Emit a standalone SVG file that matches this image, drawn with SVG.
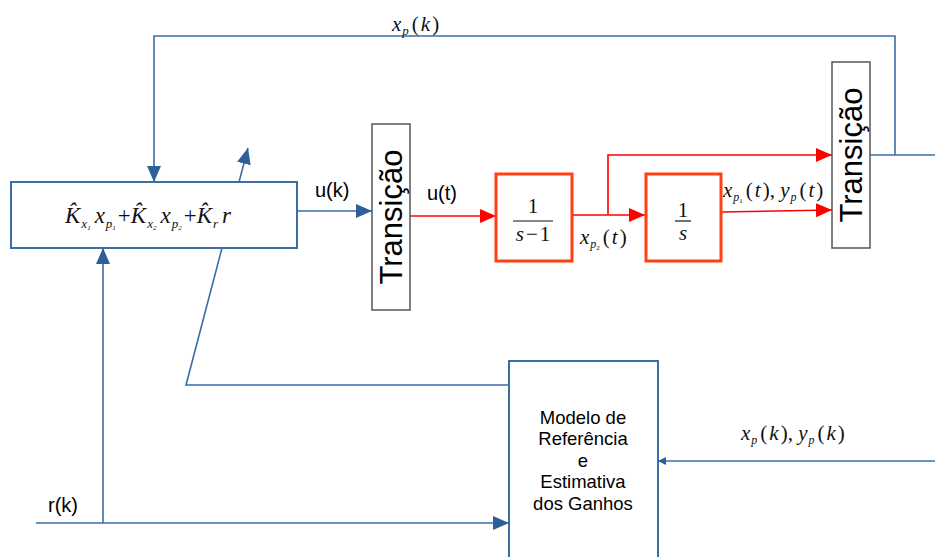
<svg xmlns="http://www.w3.org/2000/svg" width="935" height="557" viewBox="0 0 935 557">
<style>
.b{fill:none;stroke:#3a6ea5;stroke-width:1.6}
.r{fill:none;stroke:#ff0000;stroke-width:1.6}
.blk{fill:#fff;stroke:#ff4010;stroke-width:3}
.tr{fill:#fff;stroke:#555;stroke-width:1.5}
.bx{fill:#fff;stroke:#3a6ea5;stroke-width:2}
.s{font-family:"Liberation Sans",Arial,sans-serif;fill:#000}
.m{font-family:"Liberation Serif","DejaVu Serif",serif;font-style:italic;fill:#111}
.n{font-family:"Liberation Serif","DejaVu Serif",serif;fill:#111}
.p{font-style:normal}
</style>
<defs>
<marker id="ar" viewBox="0 0 16 14" refX="16" refY="7" markerWidth="16" markerHeight="14" markerUnits="userSpaceOnUse" orient="auto"><path d="M0,0L16,7L0,14Z" fill="#ff0000"/></marker>
<marker id="as" viewBox="0 0 8 8" refX="8" refY="4" markerWidth="8" markerHeight="8" markerUnits="userSpaceOnUse" orient="auto"><path d="M0,0L8,4L0,8Z" fill="#2e5f99"/></marker>
<marker id="ab2" viewBox="0 0 16 14" refX="16" refY="7" markerWidth="16" markerHeight="14" markerUnits="userSpaceOnUse" orient="auto"><path d="M0,0L16,7L0,14Z" fill="#2e5f99"/></marker>
</defs>
<g id="connectors">
<polyline class="b" points="870,155 935,155"/>
<polyline class="b" points="895,155 895,36 154,36 154,182" marker-end="url(#ab2)"/>
<line class="b" x1="239" y1="182" x2="248" y2="148" marker-end="url(#ab2)"/>
<polyline class="b" points="222,248 186,385 509,385"/>
<line class="b" x1="935" y1="461" x2="658" y2="461" marker-end="url(#as)"/>
<line class="b" x1="36" y1="523" x2="509" y2="523" marker-end="url(#ab2)"/>
<line class="b" x1="103" y1="523" x2="103" y2="248" marker-end="url(#ab2)"/>
<line class="b" x1="297" y1="211" x2="372" y2="211" marker-end="url(#ab2)"/>
<line class="r" x1="410" y1="216" x2="496" y2="216" marker-end="url(#ar)"/>
<line class="r" x1="572" y1="215" x2="645" y2="215" marker-end="url(#ar)"/>
<polyline class="r" points="608,215 608,155 832,155" marker-end="url(#ar)"/>
<line class="r" x1="721" y1="212" x2="832" y2="210" marker-end="url(#ar)"/>
</g>
<g id="lbl-xpk">
<text class="m" x="392" y="31" font-size="21">x<tspan font-size="13" dy="4" dx="1">p</tspan><tspan class="p" dy="-4" dx="3">(</tspan><tspan dx="2">k</tspan><tspan class="p" dx="2">)</tspan></text>
</g>
<g id="controller">
<rect class="bx" x="11" y="182" width="286" height="66"/>
<text class="m" x="65" y="223" font-size="23">K̂<tspan font-size="13" dy="5" dx="1">x</tspan><tspan font-size="7" dy="2">1</tspan><tspan dy="-7" dx="4">x</tspan><tspan font-size="13" dy="5" dx="1">p</tspan><tspan font-size="7" dy="2">1</tspan><tspan class="p" dy="-7" dx="2">+</tspan>K̂<tspan font-size="13" dy="5" dx="1">x</tspan><tspan font-size="7" dy="2">2</tspan><tspan dy="-7" dx="4">x</tspan><tspan font-size="13" dy="5" dx="1">p</tspan><tspan font-size="7" dy="2">2</tspan><tspan class="p" dy="-7" dx="2">+</tspan>K̂<tspan font-size="13" dy="5" dx="1">r</tspan><tspan dy="-5" dx="4">r</tspan></text>
</g>
<text class="s" x="315" y="197" font-size="20">u(k)</text>
<g id="transicao1">
<rect class="tr" x="372" y="124" width="38" height="186"/>
<text class="s" font-size="31" text-anchor="middle" transform="translate(402,217) rotate(-90)">Transição</text>
</g>
<text class="s" x="427" y="200" font-size="20">u(t)</text>
<g id="block1">
<rect class="blk" x="496" y="174" width="76" height="87"/>
<text class="n" x="533" y="213" font-size="21" text-anchor="middle">1</text>
<line x1="513" y1="221" x2="553" y2="221" stroke="#111" stroke-width="1.2"/>
<text class="m" x="533" y="241" font-size="21" text-anchor="middle">s<tspan class="p" dx="2">−</tspan><tspan class="p" dx="2">1</tspan></text>
</g>
<text class="m" x="580" y="244" font-size="21">x<tspan font-size="12" dy="4" dx="1">p</tspan><tspan font-size="7" dy="2" class="p">2</tspan><tspan class="p" dy="-6" dx="3">(</tspan><tspan dx="2">t</tspan><tspan class="p" dx="2">)</tspan></text>
<g id="block2">
<rect class="blk" x="646" y="174" width="75" height="87"/>
<text class="n" x="683" y="217" font-size="21" text-anchor="middle">1</text>
<line x1="675" y1="221" x2="691" y2="221" stroke="#111" stroke-width="1.2"/>
<text class="m" x="683" y="240" font-size="21" text-anchor="middle">s</text>
</g>
<text class="m" x="723" y="197" font-size="21">x<tspan font-size="12" dy="4" dx="1">p</tspan><tspan font-size="7" dy="2" class="p">1</tspan><tspan class="p" dy="-6" dx="3">(</tspan><tspan dx="2">t</tspan><tspan class="p" dx="2">), </tspan>y<tspan font-size="12" dy="4" dx="1">p</tspan><tspan class="p" dy="-4" dx="3">(</tspan><tspan dx="2">t</tspan><tspan class="p" dx="2">)</tspan></text>
<g id="transicao2">
<rect class="tr" x="832" y="62" width="38" height="186"/>
<text class="s" font-size="31" text-anchor="middle" transform="translate(862,155) rotate(-90)">Transição</text>
</g>
<g id="modelo">
<rect class="bx" x="509" y="361" width="149" height="210"/>
<text class="s" font-size="18.5" text-anchor="middle"><tspan x="583" y="424">Modelo de</tspan><tspan x="583" y="445">Referência</tspan><tspan x="583" y="467">e</tspan><tspan x="583" y="488">Estimativa</tspan><tspan x="583" y="510">dos Ganhos</tspan></text>
</g>
<text class="m" x="741" y="440" font-size="21">x<tspan font-size="12" dy="4" dx="1">p</tspan><tspan class="p" dy="-4" dx="3">(</tspan><tspan dx="2">k</tspan><tspan class="p" dx="2">), </tspan>y<tspan font-size="12" dy="4" dx="1">p</tspan><tspan class="p" dy="-4" dx="3">(</tspan><tspan dx="2">k</tspan><tspan class="p" dx="2">)</tspan></text>
<text class="s" x="48" y="512" font-size="20">r(k)</text>
</svg>
